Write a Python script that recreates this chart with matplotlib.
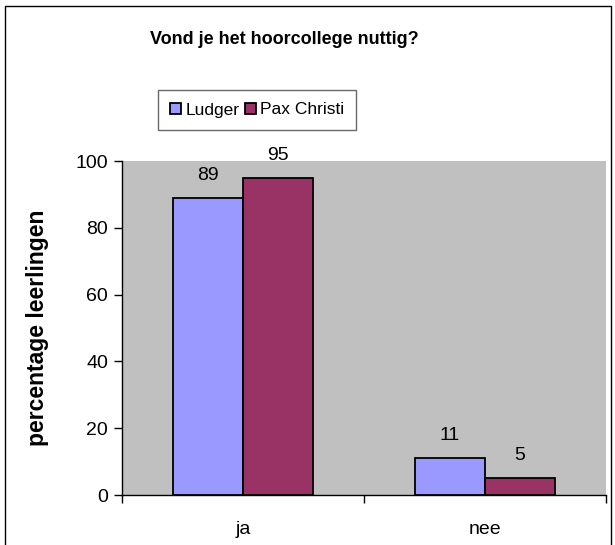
import matplotlib
matplotlib.use("Agg")
import matplotlib.pyplot as plt
from matplotlib.patches import Rectangle
import numpy as np

categories = ["ja", "nee"]
series_names = ["Ludger", "Pax Christi"]
ludger = [89, 11]
pax_christi = [95, 5]
colors = ["#9999FF", "#993366"]
yticks = [0, 20, 40, 60, 80, 100]

plt.rcParams["font.family"] = ["Liberation Sans", "DejaVu Sans"]

W, H = 615, 545
fig = plt.figure(figsize=(W / 100, H / 100), dpi=100)
fig.patch.set_facecolor("white")

# outer chart border
fig.add_artist(Rectangle((5 / W, -0.02), 606 / W, 1 - 6 / H + 0.02,
                         transform=fig.transFigure, fill=False,
                         edgecolor="black", linewidth=1.0))

ax = fig.add_axes([122 / W, 1 - 495 / H, (606 - 122) / W, (495 - 161) / H])
ax.set_facecolor("#C0C0C0")

x = np.arange(len(categories))
bw = 0.29
b1 = ax.bar(x - bw / 2, ludger, bw, color=colors[0], edgecolor="black",
            linewidth=1.3, label=series_names[0], zorder=3)
b2 = ax.bar(x + bw / 2, pax_christi, bw, color=colors[1], edgecolor="black",
            linewidth=1.3, label=series_names[1], zorder=3)

for bars, vals in ((b1, ludger), (b2, pax_christi)):
    for rect, v in zip(bars, vals):
        ax.annotate(str(v), (rect.get_x() + rect.get_width() / 2, v),
                    xytext=(0, 10), textcoords="offset points",
                    ha="center", va="bottom", fontsize=14)

ax.set_xlim(-0.5, len(categories) - 0.5)
ax.set_ylim(0, 100)
ax.set_yticks(yticks)
ax.set_yticklabels([str(t) for t in yticks], fontsize=14)
ax.set_xticks(x)
ax.set_xticklabels(categories, fontsize=14)
ax.tick_params(axis="x", which="major", length=0, pad=19)
ax.set_xticks(np.arange(-0.5, len(categories)), minor=True)
ax.tick_params(axis="x", which="minor", length=6, width=1, direction="out")
ax.tick_params(axis="y", length=6, width=1, direction="out", pad=4)

for side in ("top", "right"):
    ax.spines[side].set_visible(False)
ax.spines["left"].set_linewidth(1)
ax.spines["bottom"].set_linewidth(1)

ax.set_ylabel("percentage leerlingen", fontsize=16.5, fontweight="bold", labelpad=19)

fig.text(284 / W, 1 - 40 / H, "Vond je het hoorcollege nuttig?",
         ha="center", va="center", fontsize=13, fontweight="bold")

leg = fig.legend(loc="center", bbox_to_anchor=(257 / W, 1 - 110 / H), ncol=2,
                 frameon=True, fancybox=False, fontsize=12.5, handlelength=0.65,
                 handleheight=0.65, handletextpad=0.25, columnspacing=0.3,
                 borderpad=0.7, borderaxespad=0)
leg.get_frame().set_edgecolor("#444444")
leg.get_frame().set_linewidth(1)

fig.savefig("out.png", dpi=100)
